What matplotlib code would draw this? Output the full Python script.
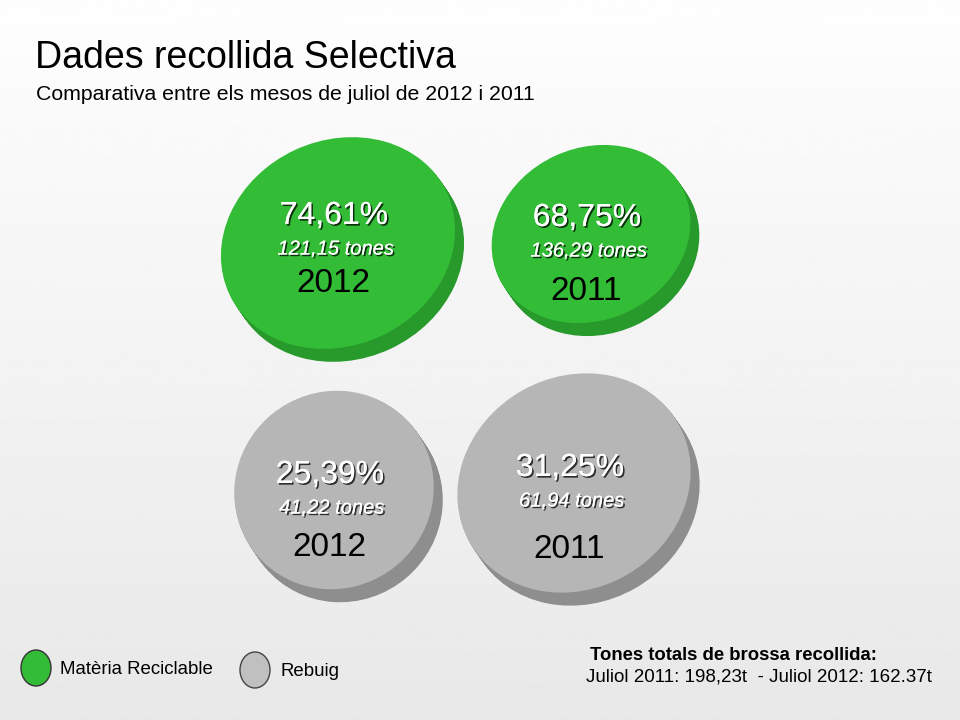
import numpy as np
import matplotlib
matplotlib.use('Agg')
import matplotlib.pyplot as plt
import matplotlib.patheffects as pe
from matplotlib.patches import Ellipse

# data
years = ['2012', '2011']
reciclable_pct = [74.61, 68.75]
reciclable_tones = [121.15, 136.29]
rebuig_pct = [25.39, 31.25]
rebuig_tones = [41.22, 61.94]
title = 'Dades recollida Selectiva'
subtitle = 'Comparativa entre els mesos de juliol de 2012 i 2011'
legend_labels = ['Matèria Reciclable', 'Rebuig']
totals_title = 'Tones totals de brossa recollida:'
totals_text = 'Juliol 2011: 198,23t  - Juliol 2012: 162.37t'

# layout in pixels (x right, y down): centre, width, height, angle of each disc face
green_discs = [(338, 243, 240, 205, -25), (591, 234, 204, 172, -25)]
gray_discs = [(334, 490, 202, 196, -40), (574, 483, 240, 212, -30)]
depth = (9, 13)

GREEN, GREEN_SIDE = '#33bd37', '#279a2b'
GRAY, GRAY_SIDE = '#b6b6b6', '#8e8e8e'

plt.rcParams['font.family'] = ['Liberation Sans', 'DejaVu Sans']

fig = plt.figure(figsize=(9.6, 7.2), dpi=100)
ax = fig.add_axes([0, 0, 1, 1])
ax.set_xlim(0, 960)
ax.set_ylim(720, 0)
ax.axis('off')

# background gradient
grad = np.linspace(0.995, 0.91, 256).reshape(-1, 1)
ax.imshow(np.repeat(grad, 2, axis=1), cmap='gray', vmin=0, vmax=1,
          extent=[0, 960, 720, 0], aspect='auto', zorder=0)


def disc(cx, cy, w, h, ang, face, side):
    n = 14
    for k in range(n, 0, -1):
        f = k / n
        ax.add_patch(Ellipse((cx + depth[0] * f, cy + depth[1] * f), w, h, angle=ang,
                             facecolor=side, edgecolor='none', zorder=2))
    ax.add_patch(Ellipse((cx, cy), w, h, angle=ang, facecolor=face,
                         edgecolor='none', zorder=3))


shadow = [pe.withSimplePatchShadow(offset=(1.2, -1.2), shadow_rgbFace='black', alpha=0.75),
          pe.Normal()]


def labels(cx, cy, pct, tones, year, dy):
    ax.text(cx - 4, cy - 30 + dy[0], f'{pct:.2f}%'.replace('.', ','), color='white',
            fontsize=23, ha='center', va='center', zorder=5, path_effects=shadow)
    ax.text(cx - 2, cy + 3 + dy[0], f'{tones:.2f} tones'.replace('.', ','), color='white',
            fontsize=14.5, style='italic', ha='center', va='center',
            zorder=5, path_effects=shadow)
    ax.text(cx - 5, cy + 40 + dy[1], year, color='black', fontsize=24,
            ha='center', va='center', zorder=5)


green_dy = [(3, 0), (14, 17)]
gray_dy = [(15, 17), (15, 26)]

for i in range(len(years)):
    cx, cy, w, h, a = green_discs[i]
    disc(cx, cy, w, h, a, GREEN, GREEN_SIDE)
    labels(cx, cy, reciclable_pct[i], reciclable_tones[i], years[i], green_dy[i])
    cx, cy, w, h, a = gray_discs[i]
    disc(cx, cy, w, h, a, GRAY, GRAY_SIDE)
    labels(cx, cy, rebuig_pct[i], rebuig_tones[i], years[i], gray_dy[i])

# titles
ax.text(35, 58, title, fontsize=27, va='center', ha='left', zorder=5)
ax.text(36, 95, subtitle, fontsize=15.3, va='center', ha='left', zorder=5)

# legend
ax.add_patch(Ellipse((36, 668), 30, 36, facecolor=GREEN, edgecolor='#333333', lw=1, zorder=5))
ax.text(60, 669, legend_labels[0], fontsize=13.4, va='center', zorder=5)
ax.add_patch(Ellipse((255, 670), 30, 36, facecolor='#c0c0c0', edgecolor='#444444', lw=1, zorder=5))
ax.text(280, 672, legend_labels[1], fontsize=13.4, va='center', zorder=5)

ax.text(590, 655, totals_title, fontsize=13.3, weight='bold', va='center', zorder=5)
ax.text(586, 677, totals_text, fontsize=13.5, va='center', zorder=5)

fig.savefig('out.png', dpi=100)
